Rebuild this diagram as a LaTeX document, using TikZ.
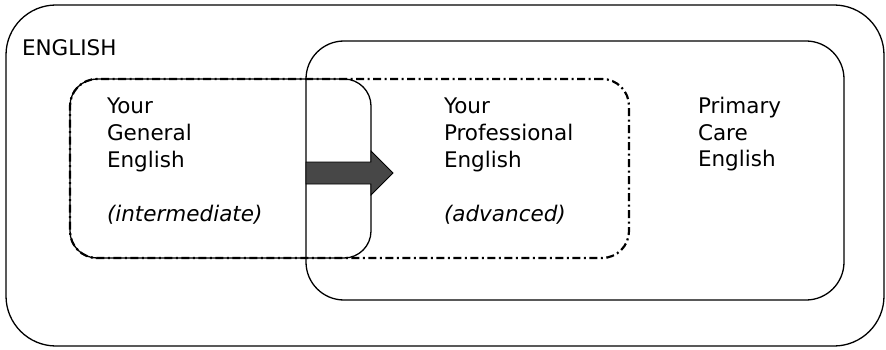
\documentclass[tikz,border=0pt]{standalone}
\usepackage{fontspec}
\setmainfont{DejaVu Sans}
\usepackage{tikz}
\usetikzlibrary{calc}
\usetikzlibrary{positioning}

\begin{document}
\begin{tikzpicture}[
  x=1pt, y=-1pt,
  every node/.style={inner sep=0pt, outer sep=0pt},
  box/.style = {draw, line width=1.3pt, rectangle},
  dashdotbox/.style = {draw, line width=2.2pt, rectangle, dash pattern=on 8pt off 3.5pt on 2pt off 3.5pt},
  label text/.style = {align=left, anchor=base west, font=\fontsize{21.5}{27}\selectfont},
  block arrow/.style = {draw, line width=0.8pt, fill=black!72}
  ]
	\useasboundingbox (0,0) rectangle (886,350);

	\node[box, rounded corners=50pt, minimum width=878pt, minimum height=341pt] (english) at (445,175.5) {};
	\node[box, rounded corners=38pt, minimum width=538pt, minimum height=259pt] (primary) at (575,170.5) {};
	\node[box, rounded corners=27pt, minimum width=301pt, minimum height=179pt] (general) at (220.5,168.5) {};
	\node[dashdotbox, rounded corners=27pt, minimum width=559pt, minimum height=179pt] (professional) at (349.5,168.5) {};

	% base anchor sits on the last line
	\node[label text] (englishtxt) at (22,56) {ENGLISH};
	\node[label text] (generaltxt) at (107,221) {Your\\General\\English\\[27pt]\textit{(intermediate)}};
	\node[label text] (professionaltxt) at (444,221) {Your\\Professional\\English\\[27pt]\textit{(advanced)}};
	\node[label text] (primarytxt) at (698,167) {Primary\\Care\\English};

	% arrow from general to professional
	\coordinate (@tail) at (primary.west |- 0,173);
	\coordinate (@head) at (general.east |- 0,173);
	\draw[block arrow] ($(@tail)+(0,-11)$) -- ($(@head)+(0,-11)$) -- ($(@head)+(0,-22)$)
		-- ($(@head)+(22,0)$) -- ($(@head)+(0,22)$) -- ($(@head)+(0,11)$) -- ($(@tail)+(0,11)$) -- cycle;

\end{tikzpicture}
\end{document}
